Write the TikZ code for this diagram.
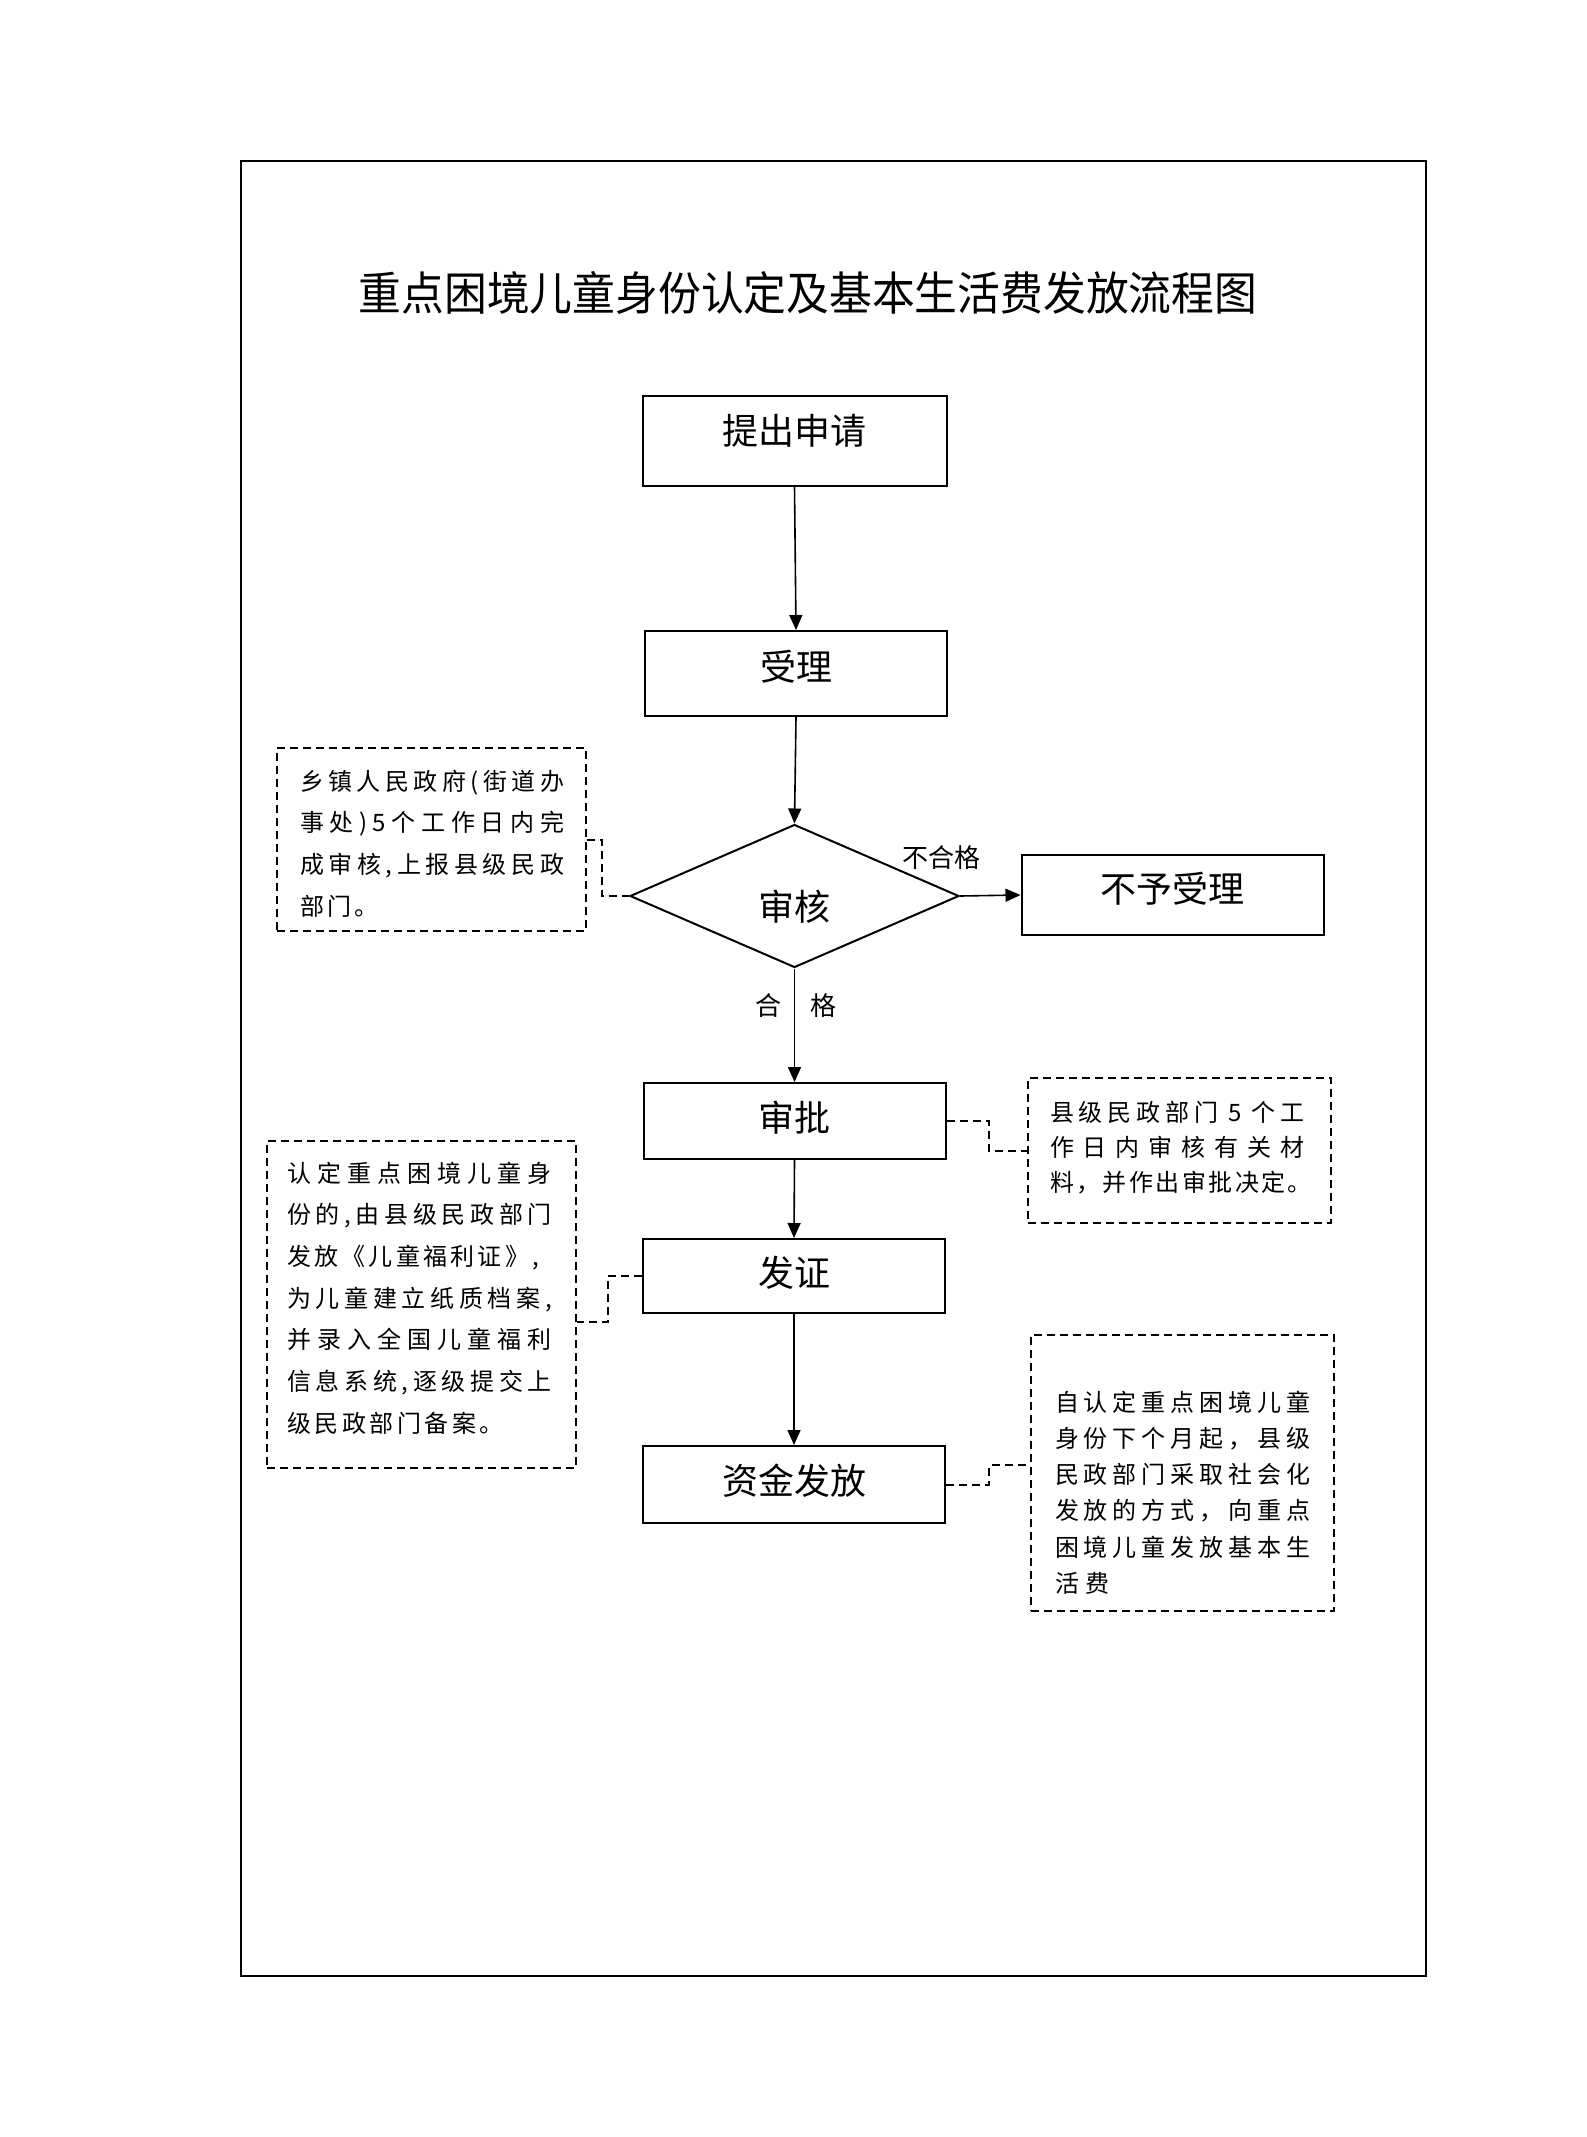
\documentclass[tikz,border=0pt]{standalone}
\usepackage{fontspec}
\usepackage{graphicx}
\setmainfont{Noto Sans CJK SC}
\usetikzlibrary{arrows.meta,shapes.geometric}
\makeatletter
\def\sprloop#1{\ifx#1\relax\else#1\hfill\expandafter\sprloop\fi}
\newcommand\spr[2]{\hbox to #1{\sprloop#2\relax\unskip}}
\makeatother
\begin{document}
\begin{tikzpicture}[x=1pt,y=-1pt,
  flowbox/.style={draw,line width=2pt,minimum width=302pt,inner sep=0pt},
  boxlab/.style={inner sep=0pt,font=\fontsize{36pt}{40pt}\selectfont},
  decbox/.style={draw,line width=2pt,shape=diamond,inner sep=0pt,minimum width=329pt,minimum height=143pt},
  notebox/.style={draw,line width=2pt,dash pattern=on 8pt off 5pt,inner sep=0pt},
  notetext/.style={inner sep=0pt,align=left},
  arr/.style={line width=1.6pt,-{Triangle[length=15pt,width=13pt]}},
  dline/.style={line width=2pt,dash pattern=on 8pt off 5pt},
  lab/.style={inner sep=0pt,font=\fontsize{26pt}{30pt}\selectfont}]
\useasboundingbox (0,0) rectangle (1587,2137);
\draw[line width=2pt] (241,161) rectangle (1426,1976);

\node[inner sep=0pt,font=\fontsize{46pt}{50pt}\selectfont] (title) at (808,293) {\scalebox{0.93}[1]{重点困境儿童身份认定及基本生活费发放流程图}};

\node[flowbox,minimum width=304pt,minimum height=90pt,label={[boxlab,yshift=10pt]center:提出申请}] (apply) at (794.5,440.5) {};
\node[flowbox,minimum height=85pt,label={[boxlab,yshift=7pt]center:受理}] (accept) at (796,673.5) {};
\node[decbox,label={[boxlab,yshift=-11pt]center:审核}] (review) at (794.5,896) {};
\node[flowbox,minimum height=80pt,label={[boxlab,yshift=6pt]center:不予受理}] (reject) at (1172.5,895) {};
\node[flowbox,minimum height=76pt,label={[boxlab,yshift=3pt]center:审批}] (approve) at (794.5,1121) {};
\node[flowbox,minimum height=74pt,label={[boxlab,yshift=3pt]center:发证}] (cert) at (794,1276) {};
\node[flowbox,minimum height=77pt,label={[boxlab,yshift=3.5pt]center:资金发放}] (fund) at (794,1484.5) {};

\draw[arr] (apply.south) -- (accept.north);
\draw[arr] (accept.south) -- (review.north);
\draw[arr] (review.east) -- (reject.west);
\draw[arr] (review.south) -- (approve.north);
\draw[arr] (approve.south) -- (cert.north);
\draw[arr] (cert.south) -- (fund.north);

\node[lab] (notq) at (941,858) {不合格};
\node[lab] (he) at (768,1006) {合};
\node[lab] (ge) at (823,1006) {格};

% note 1
\node[notebox,minimum width=309pt,minimum height=183pt] (n1) at (431.5,839.5) {};
\node[notetext,font=\fontsize{24pt}{41.7pt}\selectfont] (t1) at (432,843.5) {%
\spr{264pt}{乡镇人民政府(街道办}\\
\spr{264pt}{事处)5个工作日内完}\\
\spr{264pt}{成审核,上报县级民政}\\
\hbox to 264pt{\spr{78pt}{部门。}\hfill}};

% note 2
\node[notebox,minimum width=309pt,minimum height=327pt] (n2) at (421.5,1304.5) {};
\node[notetext,font=\fontsize{24pt}{41.7pt}\selectfont] (t2) at (419.5,1298) {%
\spr{265pt}{认定重点困境儿童身}\\
\spr{265pt}{份的,由县级民政部门}\\
\hbox to 265pt{\spr{252pt}{发放《儿童福利证》,}\hfill}\\
\spr{265pt}{为儿童建立纸质档案,}\\
\spr{265pt}{并录入全国儿童福利}\\
\spr{265pt}{信息系统,逐级提交上}\\
\hbox to 265pt{\spr{217pt}{级民政部门备案。}\hfill}};

% note 3
\node[notebox,minimum width=303pt,minimum height=145pt] (n3) at (1179.5,1150.5) {};
\node[notetext,font=\fontsize{24pt}{35pt}\selectfont] (t3) at (1181,1148) {%
\hbox to 262pt{\hbox to 254pt{县\hfill 级\hfill 民\hfill 政\hfill 部\hfill 门\hfill\hfill 5\hfill\hfill 个\hfill 工}\hfill}\\
\hbox to 262pt{\spr{254pt}{作日内审核有关材}\hfill}\\
\spr{262pt}{料，并作出审批决定。}};

% note 4
\node[notebox,minimum width=303pt,minimum height=276pt] (n4) at (1182.5,1473) {};
\node[notetext,font=\fontsize{24pt}{36.2pt}\selectfont] (t4) at (1182.5,1492.5) {%
\spr{255pt}{自认定重点困境儿童}\\
\spr{255pt}{身份下个月起，县级}\\
\spr{255pt}{民政部门采取社会化}\\
\spr{255pt}{发放的方式，向重点}\\
\spr{255pt}{困境儿童发放基本生}\\
\hbox to 255pt{\spr{55pt}{活费}\hfill}};

\draw[dline] (n1.east) -- ++(15,0) |- (review.west);
\draw[dline] (approve.east) -- ++(42,0) |- (n3.west);
\draw[dline] (cert.west) -- ++(-34,0) |- ([yshift=-17.5pt]n2.east);
\draw[dline] (fund.east) -- ++(43,0) |- ([yshift=8pt]n4.west);
\end{tikzpicture}
\end{document}
